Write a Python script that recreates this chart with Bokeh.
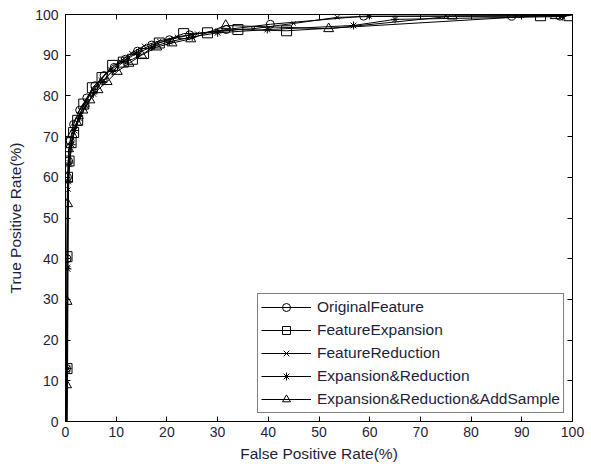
from bokeh.plotting import figure
from bokeh.models import LinearAxis, Range1d, FixedTicker
from bokeh.embed import file_html
from bokeh.resources import INLINE

# ---- data ----
orig_fpr = [0.2, 0.2, 0.3, 0.4, 0.6, 0.9, 1.6, 2.8, 4.2, 5.8, 7.6, 9.6, 11.8, 14.2, 17, 20.5, 24.5, 31.7, 40.4, 58.8, 88, 97.5, 100]
orig_tpr = [0, 13, 40, 60, 64, 69, 73, 76.5, 79.5, 82.5, 85, 87, 89, 91, 92.5, 93.8, 95, 96.3, 97.6, 99.6, 99.6, 99.6, 100]

exp_fpr = [0.3, 0.3, 0.3, 0.4, 0.7, 1.1, 1.6, 2.4, 3.6, 5.3, 7.2, 9.3, 11.4, 13.2, 15.4, 18.5, 23.3, 28, 34, 43.6, 93.7, 99.3, 100]
exp_tpr = [0, 13, 40.5, 60, 64, 68.5, 71, 74, 78, 82, 84.5, 87.5, 88.3, 89, 90.4, 93, 95.3, 95.5, 96.3, 96, 99.7, 99.7, 100]

red_fpr = [0.2, 0.4, 0.5, 0.6, 0.8, 1.2, 1.8, 2.8, 4.0, 5.4, 7.0, 8.8, 10.8, 13.0, 15.5, 18.5, 22, 26, 30, 37, 45, 53.6, 60, 75, 90, 98, 100]
red_tpr = [0, 12.5, 38, 57, 63, 68, 72, 75.5, 78.5, 81.5, 84, 86.5, 88.5, 90.5, 92.3, 93.5, 94.5, 95.3, 96, 96.5, 97.8, 99.3, 99.5, 99.6, 99.7, 99.7, 100]

er_fpr = [0.3, 0.4, 0.4, 0.5, 0.8, 1.2, 1.8, 2.8, 4.0, 5.5, 7.2, 9.2, 11.5, 14, 17, 20.5, 25, 30, 39.8, 56.8, 65, 98, 100]
er_tpr = [0, 13, 37.5, 59, 63.5, 68, 71.5, 74.5, 77.5, 80.5, 83.5, 86, 88.5, 90.5, 92, 93.3, 94.5, 95.5, 96.3, 97.3, 98.8, 99.5, 100]

era_fpr = [0.2, 0.2, 0.3, 0.4, 0.6, 1.3, 2.2, 3.4, 4.8, 6.4, 8.2, 10.2, 12.5, 15, 18, 21, 24.7, 31.6, 51.9, 76.3, 96.6, 100]
era_tpr = [0, 9, 29.5, 53.5, 67, 70.5, 73.5, 76.5, 79, 81.5, 83.5, 86, 88, 90, 92, 93, 94, 97.3, 96.5, 99.6, 99.7, 100]

series_names = ["OriginalFeature", "FeatureExpansion", "FeatureReduction",
                "Expansion&Reduction", "Expansion&Reduction&AddSample"]
ticks = [0, 10, 20, 30, 40, 50, 60, 70, 80, 90, 100]

TEXT = "#1e1e3c"
FONT = "Liberation Sans"

p = figure(width=591, height=464, x_range=Range1d(0, 100), y_range=Range1d(0, 100),
           output_backend="svg", toolbar_location=None,
           min_border_left=65, min_border_right=19, min_border_top=14, min_border_bottom=43,
           x_axis_label="False Positive Rate(%)", y_axis_label="True Positive Rate(%)")
p.xgrid.visible = False
p.ygrid.visible = False
p.outline_line_color = "black"
p.outline_line_width = 1
p.background_fill_color = "white"
p.border_fill_color = "white"

p.add_layout(LinearAxis(), "above")
p.add_layout(LinearAxis(), "right")

for ax in p.axis:
    ax.ticker = FixedTicker(ticks=ticks)
    ax.major_tick_in = 5
    ax.major_tick_out = 0
    ax.minor_tick_in = 0
    ax.minor_tick_out = 0
    ax.axis_line_color = "black"
    ax.major_tick_line_color = "black"
    ax.major_label_text_font = FONT
    ax.major_label_text_font_size = "14px"
    ax.major_label_text_color = TEXT
    ax.axis_label_text_font = FONT
    ax.axis_label_text_font_size = "15.5px"
    ax.axis_label_text_font_style = "normal"
    ax.axis_label_text_color = TEXT

for ax in p.above + p.right:
    ax.major_label_text_font_size = "1px"
    ax.major_label_text_color = None
    ax.major_label_text_alpha = 0
    ax.major_label_standoff = 0

p.xaxis[0].major_label_standoff = 4
p.xaxis[0].axis_label_standoff = 4
p.yaxis[0].major_label_standoff = 7
p.yaxis[0].axis_label_standoff = 8

data = [(orig_fpr, orig_tpr, "circle", 8),
        (exp_fpr, exp_tpr, "square", 10),
        (red_fpr, red_tpr, "x", 6),
        (er_fpr, er_tpr, "asterisk", 8),
        (era_fpr, era_tpr, "triangle", 10)]

for (xs, ys, mk, sz), name in zip(data, series_names):
    p.line(xs, ys, line_color="black", line_width=1, legend_label=name)
    p.scatter(xs[1:-1], ys[1:-1], marker=mk, size=sz, line_color="black",
              fill_color=None, line_width=1, legend_label=name)

lg = p.legend[0]
lg.location = "bottom_right"
lg.margin = 8
lg.padding = 3
lg.spacing = 3
lg.glyph_width = 50
lg.glyph_height = 20
lg.label_height = 20
lg.label_standoff = 6
lg.label_text_font = FONT
lg.label_text_font_size = "15.5px"
lg.label_text_color = TEXT
lg.border_line_color = "black"
lg.border_line_width = 1
lg.background_fill_color = "white"
lg.background_fill_alpha = 1

open("out.html", "w").write(file_html(p, INLINE))
